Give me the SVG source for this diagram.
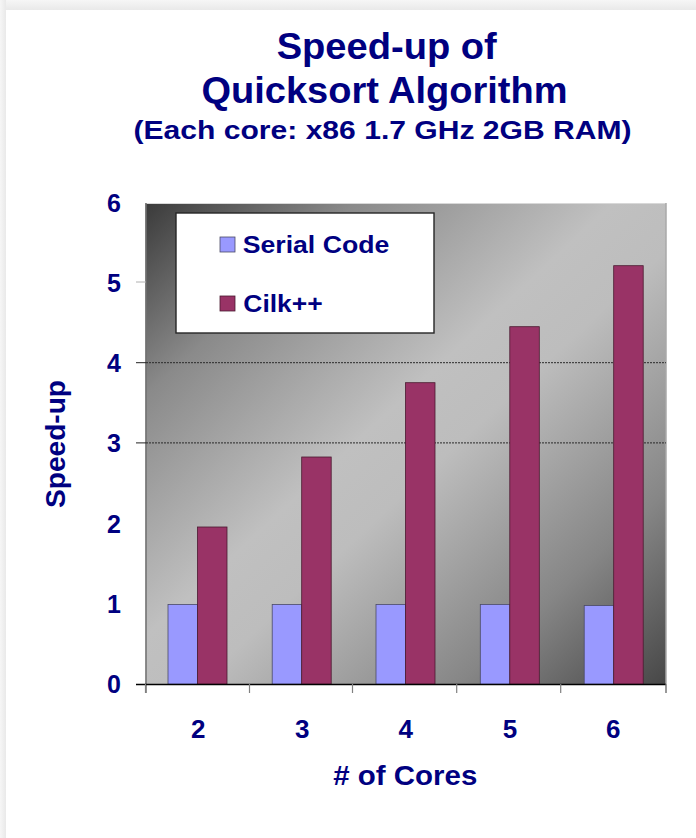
<svg xmlns="http://www.w3.org/2000/svg" width="696" height="838" viewBox="0 0 696 838">
  <defs>
    <linearGradient id="plotbg" x1="0" y1="0" x2="1" y2="1">
      <stop offset="0" stop-color="#3a3a3a"/>
      <stop offset="0.2" stop-color="#8a8a8a"/>
      <stop offset="0.45" stop-color="#c0c0c0"/>
      <stop offset="0.55" stop-color="#bdbdbd"/>
      <stop offset="0.8" stop-color="#868686"/>
      <stop offset="1" stop-color="#474747"/>
    </linearGradient>
    <linearGradient id="topband" x1="0" y1="0" x2="0" y2="1">
      <stop offset="0" stop-color="#f6f6f6"/>
      <stop offset="1" stop-color="#e9e9e9"/>
    </linearGradient>
    <linearGradient id="leftband" x1="0" y1="0" x2="1" y2="0">
      <stop offset="0" stop-color="#f6f6f6"/>
      <stop offset="1" stop-color="#e9e9e9"/>
    </linearGradient>
  </defs>
  <style>
    text { font-family: "Liberation Sans", Arial, sans-serif; font-weight: bold; fill: #000080; }
    .title1 { font-size: 36px; }
    .title2 { font-size: 37px; }
    .title3 { font-size: 26px; }
    .ylab { font-size: 25px; text-anchor: end; }
    .xlab { font-size: 26px; text-anchor: middle; }
    .axtitle { font-size: 27px; text-anchor: middle; }
    .leg { font-size: 23px; }
    .serial { fill: #9999ff; stroke: #4a4a66; stroke-width: 0.8; }
    .cilk { fill: #993366; stroke: #4a1a30; stroke-width: 0.8; }
    .grid { stroke: #2a2a2a; stroke-width: 1; stroke-dasharray: 2 1; }
    .tick { stroke: #808080; stroke-width: 1.2; }
  </style>

  <rect x="0" y="0" width="696" height="838" fill="#ffffff"/>
  <rect x="0" y="0" width="696" height="10" fill="url(#topband)"/>
  <rect x="0" y="0" width="6" height="838" fill="url(#leftband)"/>

  <g id="title">
    <text class="title1" x="386.7" y="59.3" text-anchor="middle" textLength="220" lengthAdjust="spacingAndGlyphs">Speed-up of</text>
    <text class="title2" x="384.5" y="102.7" text-anchor="middle" textLength="366" lengthAdjust="spacingAndGlyphs">Quicksort Algorithm</text>
    <text class="title3" x="382.5" y="139" text-anchor="middle" textLength="498" lengthAdjust="spacingAndGlyphs">(Each core: x86 1.7 GHz 2GB RAM)</text>
  </g>

  <g id="plot-area">
    <rect x="145.5" y="203" width="520.5" height="481.5" fill="url(#plotbg)"/>
    <line x1="145.5" y1="203.5" x2="666" y2="203.5" stroke="#d8d8d8" stroke-width="1"/>
    <line x1="666" y1="203" x2="666" y2="693" stroke="#a8a8a8" stroke-width="1.5"/>
    <line x1="146" y1="203" x2="146" y2="693" stroke="#707070" stroke-width="1.5"/>
  </g>

  <g id="gridlines">
    <line class="grid" x1="146" y1="362.7" x2="666" y2="362.7"/>
    <line class="grid" x1="146" y1="442.9" x2="666" y2="442.9"/>
  </g>

  <g id="y-axis">
    <line x1="136" y1="282" x2="146" y2="282" stroke="#b0b0b0" stroke-width="1"/>
    <line x1="136" y1="362.7" x2="146" y2="362.7" stroke="#222" stroke-width="1"/>
    <line x1="136" y1="442.9" x2="146" y2="442.9" stroke="#222" stroke-width="1"/>
    <text class="ylab" x="121" y="212">6</text>
    <text class="ylab" x="121" y="292">5</text>
    <text class="ylab" x="121" y="372">4</text>
    <text class="ylab" x="121" y="452">3</text>
    <text class="ylab" x="121" y="533">2</text>
    <text class="ylab" x="121" y="613">1</text>
    <text class="ylab" x="121" y="693">0</text>
    <text class="axtitle" transform="translate(65,444) rotate(-90)" textLength="128" lengthAdjust="spacingAndGlyphs">Speed-up</text>
  </g>

  <g id="series-serial">
    <rect class="serial" x="168" y="604.4" width="29.5" height="79.8"/>
    <rect class="serial" x="272.2" y="604.4" width="29.5" height="79.8"/>
    <rect class="serial" x="376" y="604.4" width="29.5" height="79.8"/>
    <rect class="serial" x="480.3" y="604.4" width="29.5" height="79.8"/>
    <rect class="serial" x="584.2" y="605.6" width="29.5" height="78.6"/>
  </g>

  <g id="series-cilk">
    <rect class="cilk" x="197.5" y="527" width="29.5" height="157.2"/>
    <rect class="cilk" x="301.7" y="457" width="29.5" height="227.2"/>
    <rect class="cilk" x="405.5" y="382.7" width="29.5" height="301.5"/>
    <rect class="cilk" x="509.8" y="326.7" width="29.5" height="357.5"/>
    <rect class="cilk" x="613.7" y="265.7" width="29.5" height="418.5"/>
  </g>

  <g id="x-axis">
    <line x1="136" y1="684.5" x2="666" y2="684.5" stroke="#000" stroke-width="1.5"/>
    <line class="tick" x1="145.5" y1="684" x2="145.5" y2="693"/>
    <line class="tick" x1="249.5" y1="684" x2="249.5" y2="693"/>
    <line class="tick" x1="352.5" y1="684" x2="352.5" y2="693"/>
    <line class="tick" x1="456.7" y1="684" x2="456.7" y2="693"/>
    <line class="tick" x1="560.7" y1="684" x2="560.7" y2="693"/>
    <line class="tick" x1="666" y1="684" x2="666" y2="693"/>
    <text class="xlab" x="198.3" y="738">2</text>
    <text class="xlab" x="302.3" y="738">3</text>
    <text class="xlab" x="405.7" y="738">4</text>
    <text class="xlab" x="510" y="738">5</text>
    <text class="xlab" x="613.3" y="738">6</text>
    <text class="axtitle" x="405.3" y="785" textLength="144" lengthAdjust="spacingAndGlyphs"># of Cores</text>
  </g>

  <g id="legend">
    <rect x="176" y="213" width="258" height="120" fill="#ffffff" stroke="#262626" stroke-width="1.4"/>
    <rect class="serial" x="220" y="237" width="15" height="15" stroke="#333" stroke-width="1"/>
    <text class="leg" x="242.7" y="253.3" textLength="146.6" lengthAdjust="spacingAndGlyphs">Serial Code</text>
    <rect class="cilk" x="220" y="296" width="15" height="15" stroke="#333" stroke-width="1"/>
    <text class="leg" x="243.3" y="311.7" textLength="79.4" lengthAdjust="spacingAndGlyphs">Cilk++</text>
  </g>
</svg>
